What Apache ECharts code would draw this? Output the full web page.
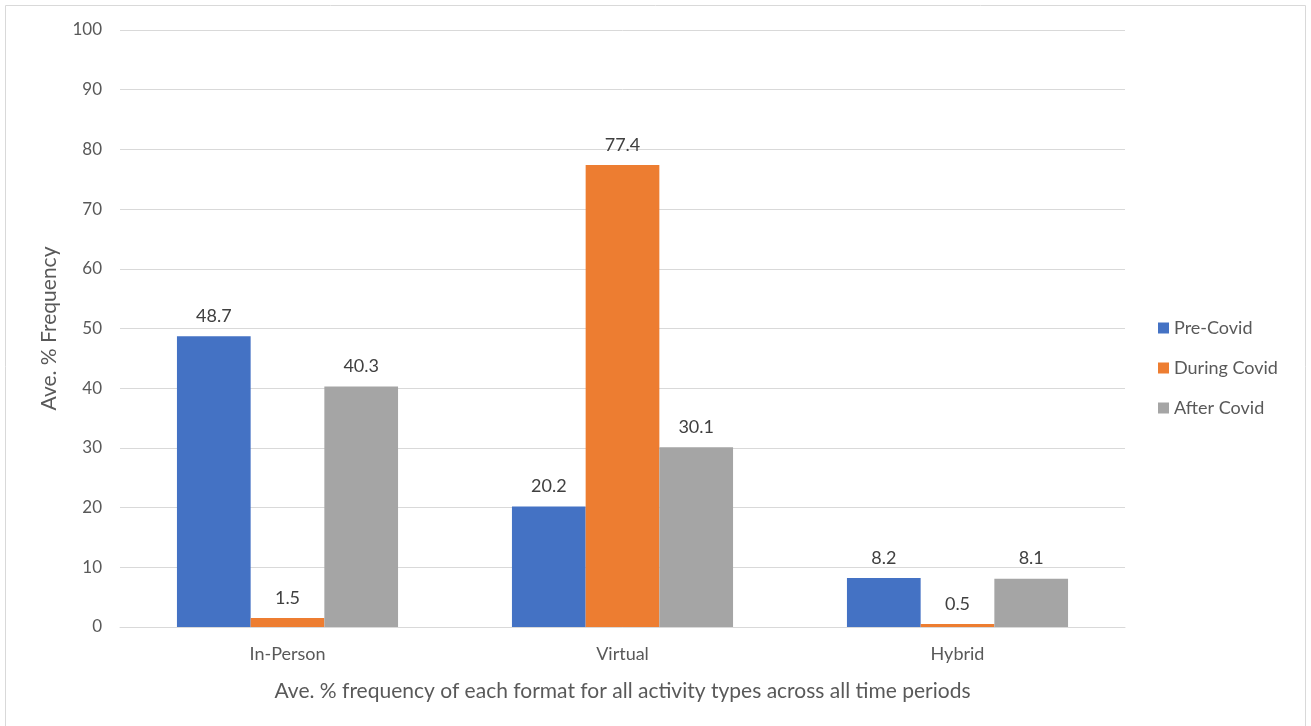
<!DOCTYPE html>
<html>
<head>
<meta charset="utf-8">
<script src="https://cdn.jsdelivr.net/npm/echarts@6/dist/echarts.min.js"></script>
<style>
  html, body { margin: 0; padding: 0; background: #fff; }
  #chart { width: 1311px; height: 726px; }
</style>
</head>
<body>
<div id="chart"></div>
<script>
// Activity formats and average % frequency per period
const categories = ['In-Person', 'Virtual', 'Hybrid'];
const seriesNames = ['Pre-Covid', 'During Covid', 'After Covid'];
const preCovid = [48.7, 20.2, 8.2];
const duringCovid = [1.5, 77.4, 0.5];
const afterCovid = [40.3, 30.1, 8.1];
const colors = ['#4472C4', '#ED7D31', '#A5A5A5'];

const FONT = 'Lato, "Open Sans", sans-serif';
const TEXT = '#595959';

const chart = echarts.init(document.getElementById('chart'));

function barSeries(name, data, color) {
  return {
    name: name,
    type: 'bar',
    data: data,
    barGap: '0%',
    barCategoryGap: '34%',
    itemStyle: { color: color },
    label: {
      show: true,
      position: 'top',
      distance: 11,
      color: '#404040',
      fontFamily: FONT,
      fontSize: 18,
      formatter: p => p.value.toFixed(1)
    }
  };
}

chart.setOption({
  animation: false,
  textStyle: { fontFamily: FONT },
  graphic: [{
    type: 'rect',
    shape: { x: 5.5, y: 5.5, width: 1300, height: 730 },
    style: { fill: 'none', stroke: '#d9d9d9', lineWidth: 1 },
    silent: true
  }],
  grid: { left: 120, right: 186, top: 30, bottom: 99 },
  legend: {
    orient: 'vertical',
    left: 1153,
    top: 314,
    itemWidth: 11,
    itemHeight: 11,
    itemGap: 22,
    icon: 'rect',
    textStyle: { color: TEXT, fontSize: 18, fontFamily: FONT },
    data: seriesNames
  },
  xAxis: {
    type: 'category',
    data: categories,
    axisTick: { show: false },
    axisLine: { lineStyle: { color: '#d9d9d9', width: 1 } },
    axisLabel: { color: TEXT, fontSize: 18, margin: 18, fontFamily: FONT },
    name: 'Ave. % frequency of each format for all activity types across all time periods',
    nameLocation: 'middle',
    nameGap: 54,
    nameTextStyle: { color: TEXT, fontSize: 21, fontFamily: FONT }
  },
  yAxis: {
    type: 'value',
    min: 0,
    max: 100,
    interval: 10,
    axisLine: { show: false },
    axisTick: { show: false },
    splitLine: { lineStyle: { color: '#d9d9d9', width: 1 } },
    axisLabel: { color: TEXT, fontSize: 17, margin: 18, fontFamily: FONT },
    name: 'Ave. % Frequency',
    nameLocation: 'middle',
    nameGap: 60,
    nameTextStyle: { color: TEXT, fontSize: 21, fontFamily: FONT }
  },
  series: [
    barSeries(seriesNames[0], preCovid, colors[0]),
    barSeries(seriesNames[1], duringCovid, colors[1]),
    barSeries(seriesNames[2], afterCovid, colors[2])
  ]
});
</script>
</body>
</html>
